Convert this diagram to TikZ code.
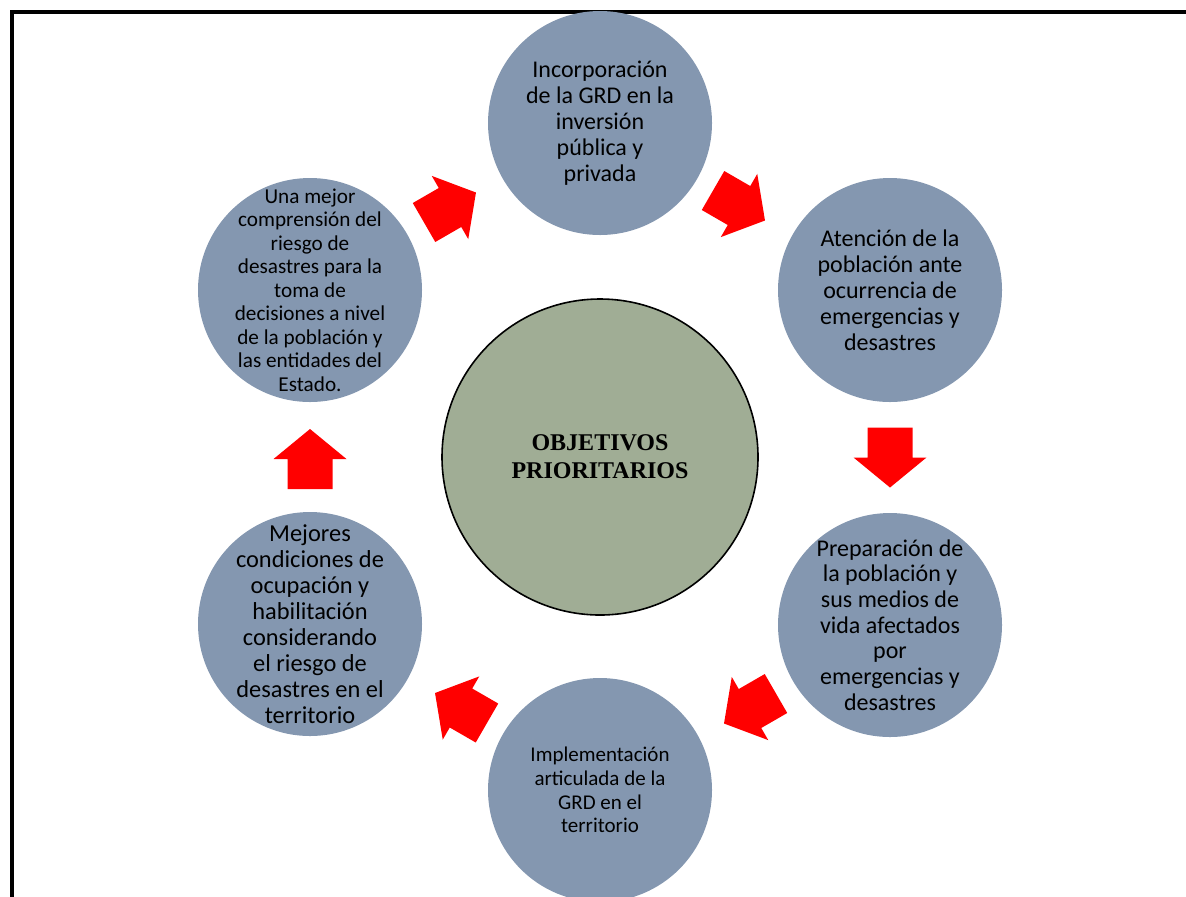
\documentclass[tikz,border=0pt]{standalone}
\usepackage{fontspec}
\setmainfont{Carlito}
\newfontfamily\serifbold{Liberation Serif}
\usetikzlibrary{calc}
\definecolor{satfill}{HTML}{8497B0}
\definecolor{cenfill}{HTML}{A0AD95}
\tikzset{
  sat/.style={circle, fill=satfill, draw=none, minimum size=112pt, inner sep=0pt},
  sattext/.style={align=center, text=black, inner sep=0pt},
  cen/.style={circle, fill=cenfill, draw=black, line width=0.8pt, minimum size=158pt, inner sep=0pt, align=center},
  blockarrow/.pic={\fill[red] (-30,-22.5) -- (0,-22.5) -- (0,-36.5) -- (30,0) -- (0,36.5) -- (0,22.5) -- (-30,22.5) -- cycle;}
}
\begin{document}
\begin{tikzpicture}[x=0.5pt,y=-0.5pt]
\useasboundingbox (0,0) rectangle (1186,896);
\clip (0,0) rectangle (1186,896);
\fill[white] (0,0) rectangle (1186,896);
\draw[line width=2pt] (12,930) -- (12,12) -- (1220,12);

\node[cen, font={\serifbold\bfseries\fontsize{12}{14}\selectfont}] (c) at (600,457) {OBJETIVOS\\PRIORITARIOS};

\node[sat, label={[sattext, font={\fontsize{12}{13}\selectfont}]center:{Incorporación\\de la GRD en la\\inversión\\pública y\\privada}}] (t) at (600,123) {};
\node[sat, label={[sattext, font={\fontsize{12}{13}\selectfont}]center:{Atención de la\\población ante\\ocurrencia de\\emergencias y\\desastres}}] (ur) at (890,290) {};
\node[sat, label={[sattext, font={\fontsize{12}{12.85}\selectfont}]center:{Preparación de\\la población y\\sus medios de\\vida afectados\\por\\emergencias y\\desastres}}] (lr) at (890,625) {};
\node[sat, label={[sattext, font={\fontsize{10.5}{11.85}\selectfont}]center:{Implementación\\articulada de la\\GRD en el\\territorio}}] (b) at (600,790) {};
\node[sat, label={[sattext, font={\fontsize{12.2}{13}\selectfont}]center:{Mejores\\condiciones de\\ocupación y\\habilitación\\considerando\\el riesgo de\\desastres en el\\territorio}}] (ll) at (310,624) {};
\node[sat, label={[sattext, font={\fontsize{10.6}{11.75}\selectfont}]center:{Una mejor\\comprensión del\\riesgo de\\desastres para la\\toma de\\decisiones a nivel\\de la población y\\las entidades del\\Estado.}}] (ul) at (310,290) {};

\pic[rotate=30] at ($(ul)!0.5!(t)+(-5,1)$) {blockarrow};
\pic[rotate=-30] at ($(t)!0.5!(ur)+(-6,-1)$) {blockarrow};
\pic[rotate=-90] at ($(ur)!0.5!(lr)$) {blockarrow};
\pic[rotate=210] at ($(lr)!0.5!(b)+(5,1)$) {blockarrow};
\pic[rotate=150] at ($(b)!0.5!(ll)+(6,1)$) {blockarrow};
\pic[rotate=90] at ($(ll)!0.5!(ul)+(0,2)$) {blockarrow};
\end{tikzpicture}
\end{document}
